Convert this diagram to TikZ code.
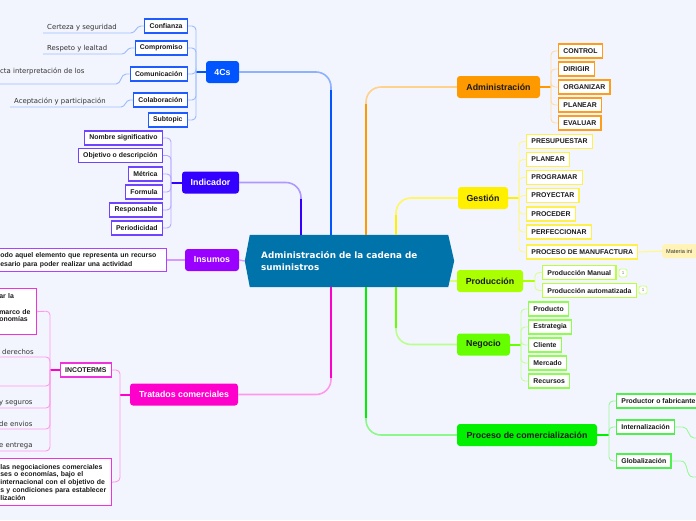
\documentclass[tikz,border=0pt]{standalone}
\usepackage{fontspec}
\setmainfont{Liberation Sans}
\newfontfamily\dvs{DejaVu Sans}
\usetikzlibrary{calc}
\definecolor{bg}{HTML}{F3F5FE}
\definecolor{rootc}{HTML}{0073AA}
\definecolor{cfour}{HTML}{0055FF}
\definecolor{cind}{HTML}{3300FF}
\definecolor{cins}{HTML}{9900FF}
\definecolor{ctrat}{HTML}{FF00CC}
\definecolor{cadm}{HTML}{FF9900}
\definecolor{cges}{HTML}{FFF000}
\definecolor{cprod}{HTML}{AAFF00}
\definecolor{cneg}{HTML}{66FF00}
\definecolor{cproc}{HTML}{00F000}
\definecolor{lfour}{HTML}{1F5CFF}
\definecolor{lind}{HTML}{6E44FF}
\definecolor{lins}{HTML}{B040FF}
\definecolor{ltrat}{HTML}{EE33DD}
\definecolor{ladm}{HTML}{FF9D1A}
\definecolor{lges}{HTML}{FFF14D}
\definecolor{lprod}{HTML}{B8FF40}
\definecolor{lneg}{HTML}{8CFF4D}
\definecolor{lproc}{HTML}{4DF04D}
\definecolor{txt}{HTML}{1A1A1A}
\definecolor{notec}{HTML}{333333}
\definecolor{matc}{HTML}{FFF3B8}
\tikzset{
  topic/.style={rounded corners=3pt, inner sep=0pt, minimum height=22pt, font=\bfseries\fontsize{8.8}{10}\selectfont},
  leaf/.style={draw, fill=white, line width=1.3pt, inner xsep=4.8pt, inner ysep=0pt, minimum height=14pt, font=\bfseries\fontsize{6.9}{8}\selectfont, text=txt},
  note/.style={inner xsep=4pt, inner ysep=2pt, font=\dvs\fontsize{6.9}{8}\selectfont, text=notec, anchor=south west},
  br/.style={line width=0.9pt, rounded corners=4pt},
  stem/.style={line width=2pt},
  trunk/.style={line width=1.6pt, rounded corners=15pt},
  trunkthick/.style={line width=2.8pt},
}
\begin{document}
\begin{tikzpicture}[x=1pt,y=-1pt]
\useasboundingbox (0,0) rectangle (696,520);
\fill[bg] (0,0) rectangle (696,520);
\clip (0,0) rectangle (696,520);

% ---------- root ----------
\node[minimum width=209pt, minimum height=52pt, inner sep=0pt] (root) at (349.5,261) {};
\fill[rootc] ([xshift=5pt]root.north west) -- ([xshift=-6pt]root.north east) -- (root.east) -- ([xshift=-6pt]root.south east) -- ([xshift=5pt]root.south west) -- (root.west) -- cycle;
\node[anchor=west, text=white, font=\dvs\bfseries\fontsize{8.8}{12}\selectfont, align=left, inner sep=0pt] (roottxt) at (261,261) {Administración de la cadena de\\suministros};
\coordinate (rootR) at (449.5,281);

% ---------- topics ----------
\node[topic, fill=cfour, text=white, minimum width=33pt] (fourc) at (222.5,72) {4Cs};
\node[topic, fill=cind, text=white, minimum width=57pt] (ind) at (210.5,182.5) {Indicador};
\node[topic, fill=cins, text=white, minimum width=54pt] (ins) at (212,260) {Insumos};
\node[topic, fill=ctrat, text=white, minimum width=108pt] (trat) at (184,394.5) {Tratados comerciales};
\node[topic, fill=cadm, text=txt, minimum width=83pt] (adm) at (498.5,87) {Administración};
\node[topic, fill=cges, text=txt, minimum width=50pt] (ges) at (483,198) {Gestión};
\node[topic, fill=cprod, text=txt, minimum width=66pt] (prod) at (490,281) {Producción};
\node[topic, fill=cneg, text=txt, minimum width=53pt] (neg) at (483.5,344.5) {Negocio};
\node[topic, fill=cproc, text=txt, minimum width=140pt] (proc) at (527,435) {Proceso de comercialización};

% ---------- trunks ----------
\draw[trunk, cfour!45!white] (331,0 |- root.north) -- (331,72) -- (fourc.east);
\draw[trunkthick, cfour] (331,0 |- root.north) -- (331,90);
\draw[trunk, cind!40!white] (301,0 |- root.north) -- (301,182.5) -- (ind.east);
\draw[trunkthick, cind] (301,0 |- root.north) -- (301,199);
\draw[line width=1.4pt, cins!40!white] (root.west) -- (ins.east);
\draw[trunk, ctrat!40!white] (331,0 |- root.south) -- (331,394.5) -- (trat.east);
\draw[trunkthick, ctrat] (331,0 |- root.south) -- (331,378);
\draw[trunk, cadm!45!white] (366,0 |- root.north) -- (366,87) -- (adm.west);
\draw[trunkthick, cadm] (366,0 |- root.north) -- (366,104);
\draw[trunk, cges!60!white] (396,0 |- root.north) -- (396,198) -- (ges.west);
\draw[trunkthick, cges] (396,0 |- root.north) -- (396,215);
\draw[line width=1.4pt, cprod!50!white] (rootR) -- (prod.west);
\draw[trunk, cneg!45!white] (396,0 |- root.south) -- (396,344.5) -- (neg.west);
\draw[trunkthick, cneg] (396,0 |- root.south) -- (396,328);
\draw[trunk, cproc!45!white] (366,0 |- root.south) -- (366,435) -- (proc.west);
\draw[trunkthick, cproc] (366,0 |- root.south) -- (366,418);

% ---------- 4Cs ----------
\node[leaf, draw=lfour, anchor=east] (c1) at (188,26) {Confianza};
\node[leaf, draw=lfour, anchor=east] (c2) at (188,48) {Compromiso};
\node[leaf, draw=lfour, anchor=east] (c3) at (188,74) {Comunicación};
\node[leaf, draw=lfour, anchor=east] (c4) at (188,100) {Colaboración};
\node[leaf, draw=lfour, anchor=east] (c5) at (188,120) {Subtopic};
\draw[stem, cfour] (fourc.west) -- (196,72);
\foreach \n/\y in {c1/26,c2/48,c3/74,c4/100,c5/120}
  \draw[br, cfour!40!white] (196,72) -- (196,\y) -- (\n.east);
\node[note] (t1) at (43,33) {Certeza y seguridad};
\node[note] (t2) at (43,54) {Respeto y lealtad};
\node[note, align=left] (t3) at (-4,84) {cta interpretación de los\\\mbox{}};
\node[note] (t4) at (10,107) {Aceptación y participación};
\draw[line width=0.9pt, cfour!40!white] (c1.west) -- (141,26) to[out=180,in=0] (131,33) -- (t1.south west);
\draw[line width=0.9pt, cfour!40!white] (c2.west) -- (131,48) to[out=180,in=0] (122,54) -- (t2.south west);
\draw[line width=0.9pt, cfour!40!white] (c3.west) -- (126,74) to[out=180,in=0] (116,84) -- (t3.south west);
\draw[line width=0.9pt, cfour!40!white] (c4.west) -- (130,100) to[out=180,in=0] (121,107) -- (t4.south west);

% ---------- Indicador ----------
\node[leaf, draw=lind, anchor=east] (n1) at (163,138) {Nombre significativo};
\node[leaf, draw=lind, anchor=east] (n2) at (163,155.5) {Objetivo o descripción};
\node[leaf, draw=lind, anchor=east] (n3) at (163,174) {Métrica};
\node[leaf, draw=lind, anchor=east] (n4) at (163,192) {Formula};
\node[leaf, draw=lind, anchor=east] (n5) at (163,210) {Responsable};
\node[leaf, draw=lind, anchor=east] (n6) at (163,228) {Periodicidad};
\draw[stem, cind] (ind.west) -- (171,182.5);
\foreach \n/\y in {n1/138,n2/155.5,n3/174,n4/192,n5/210,n6/228}
  \draw[br, cind!35!white] (171,182.5) -- (171,\y) -- (\n.east);

% ---------- Insumos ----------
\node[leaf, draw=lins, anchor=east, align=left, text width=164pt, inner xsep=2pt, minimum height=23pt, font=\bfseries\fontsize{6.9}{9}\selectfont] (insbox) at (167,260) {odo aquel elemento que representa un recurso\\esario para poder realizar una actividad};
\draw[line width=1.2pt, cins!40!white] (ins.west) -- (insbox.east);

% ---------- Tratados ----------
\node[leaf, draw=ltrat, anchor=east] (inc) at (112,370) {INCOTERMS};
\node[leaf, draw=ltrat, anchor=north east, align=left, text width=109pt, inner xsep=2pt, minimum height=47pt, font=\bfseries\fontsize{6.9}{7.8}\selectfont] (tbot) at (112,458) {las negociaciones comerciales\\ses o economías, bajo el\\internacional con el objetivo de\\s y condiciones para establecer\\lización};
\draw[stem, ctrat] (trat.west) -- (120,394.5);
\draw[br, ctrat!40!white] (120,394.5) -- (120,370) -- (inc.east);
\draw[br, ctrat!40!white] (120,394.5) -- (120,481.5) -- (tbot.east);

\node[leaf, draw=ltrat, anchor=north east, align=left, text width=34pt, inner xsep=3pt, minimum height=46pt, font=\bfseries\fontsize{6.9}{7.8}\selectfont] (ttop) at (37,288) {ar la\\\mbox{}\\marco de\\onomías\\\mbox{}};
\node[note] (i1) at (-2,357) {derechos};
\coordinate (i2) at (-2,386);
\node[note] (i3) at (-5,408) {y seguros};
\node[note] (i4) at (-5,429) {de envios};
\node[note] (i5) at (-5,451) {e entrega};
\draw[stem, ctrat] (inc.west) -- (50,370);
\draw[br, ctrat!40!white] (50,370) -- (50,311) -- (ttop.east);
\draw[br, ctrat!40!white] (50,370) -- (50,357) -- (i1.south west);
\draw[br, ctrat!40!white] (50,370) -- (50,386) -- (i2);
\draw[br, ctrat!40!white] (50,370) -- (50,408) -- (i3.south west);
\draw[br, ctrat!40!white] (50,370) -- (50,429) -- (i4.south west);
\draw[br, ctrat!40!white] (50,370) -- (50,451) -- (i5.south west);

% ---------- Administracion ----------
\node[leaf, draw=ladm, anchor=west] (a1) at (558,51) {CONTROL};
\node[leaf, draw=ladm, anchor=west] (a2) at (558,69) {DIRIGIR};
\node[leaf, draw=ladm, anchor=west] (a3) at (558,87) {ORGANIZAR};
\node[leaf, draw=ladm, anchor=west] (a4) at (558,105) {PLANEAR};
\node[leaf, draw=ladm, anchor=west] (a5) at (558,123) {EVALUAR};
\draw[stem, cadm] (adm.east) -- (551,87);
\foreach \n/\y in {a1/51,a2/69,a3/87,a4/105,a5/123}
  \draw[br, cadm!35!white] (551,87) -- (551,\y) -- (\n.west);

% ---------- Gestion ----------
\node[leaf, draw=lges, anchor=west] (g1) at (526,141.5) {PRESUPUESTAR};
\node[leaf, draw=lges, anchor=west] (g2) at (526,159.5) {PLANEAR};
\node[leaf, draw=lges, anchor=west] (g3) at (526,177.5) {PROGRAMAR};
\node[leaf, draw=lges, anchor=west] (g4) at (526,195.5) {PROYECTAR};
\node[leaf, draw=lges, anchor=west] (g5) at (526,214) {PROCEDER};
\node[leaf, draw=lges, anchor=west] (g6) at (526,232) {PERFECCIONAR};
\node[leaf, draw=lges, anchor=west] (g7) at (526,252) {PROCESO DE MANUFACTURA};
\draw[stem, cges] (ges.east) -- (519,198);
\foreach \n/\y in {g1/141.5,g2/159.5,g3/177.5,g4/195.5,g5/214,g6/232,g7/252}
  \draw[br, cges!45!white] (519,198) -- (519,\y) -- (\n.west);
\node[anchor=west, fill=matc, rounded corners=3pt, minimum height=14pt, text width=40pt, inner xsep=4pt, inner ysep=0pt, align=left, text=notec, font=\fontsize{5.6}{7}\selectfont] (mat) at (662,251) {Materia ini};
\draw[line width=1.2pt, cges!45!white] (g7.east) -- (mat.west);

% ---------- Produccion ----------
\node[leaf, draw=lprod, anchor=west] (p1) at (542,272.5) {Producción Manual};
\node[leaf, draw=lprod, anchor=west] (p2) at (542,290.5) {Producción automatizada};
\draw[stem, cprod] (prod.east) -- (535,281);
\foreach \n/\y in {p1/272.5,p2/290.5}
  \draw[br, cprod!45!white] (535,281) -- (535,\y) -- (\n.west);
\node[draw=lprod!70!white, line width=0.8pt, rounded corners=2pt, fill=white, minimum size=8pt, inner sep=0pt, font=\fontsize{4.5}{5}\selectfont, text=gray] (b1) at (623,273) {1};
\node[draw=lprod!70!white, line width=0.8pt, rounded corners=2pt, fill=white, minimum size=8pt, inner sep=0pt, font=\fontsize{4.5}{5}\selectfont, text=gray] (b2) at (643,290) {1};

% ---------- Negocio ----------
\node[leaf, draw=lneg, anchor=west] (e1) at (528,309) {Producto};
\node[leaf, draw=lneg, anchor=west] (e2) at (528,327) {Estrategia};
\node[leaf, draw=lneg, anchor=west] (e3) at (528,345) {Cliente};
\node[leaf, draw=lneg, anchor=west] (e4) at (528,363) {Mercado};
\node[leaf, draw=lneg, anchor=west] (e5) at (528,381) {Recursos};
\draw[stem, cneg] (neg.east) -- (521,344.5);
\foreach \n/\y in {e1/309,e2/327,e3/345,e4/363,e5/381}
  \draw[br, cneg!40!white] (521,344.5) -- (521,\y) -- (\n.west);

% ---------- Proceso ----------
\node[leaf, draw=lproc, anchor=west] (r1) at (616,401) {Productor o fabricante};
\node[leaf, draw=lproc, anchor=west] (r2) at (616,427) {Internalización};
\node[leaf, draw=lproc, anchor=west] (r3) at (616,461) {Globalización};
\draw[stem, cproc] (proc.east) -- (609,435);
\foreach \n/\y in {r1/401,r2/427,r3/461}
  \draw[br, cproc!40!white] (609,435) -- (609,\y) -- (\n.west);
\coordinate (o1) at (702,438);
\coordinate (o2) at (702,477);
\draw[line width=0.9pt, cproc!40!white] (r2.east) -- (683,427) to[out=0,in=180] (694,438) -- (o1);
\draw[line width=0.9pt, cproc!40!white] (r3.east) -- (681,461) to[out=0,in=180] (693,477) -- (o2);
\end{tikzpicture}
\end{document}
